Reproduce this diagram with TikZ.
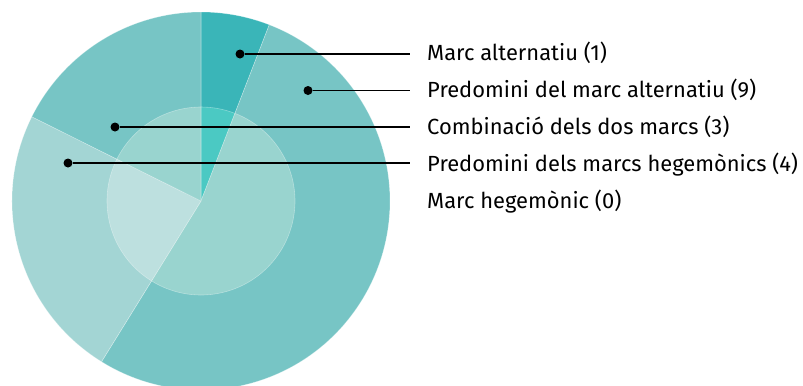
\documentclass[tikz,border=0pt]{standalone}
\usepackage{fontspec}
\setmainfont{Fira Sans}
\usetikzlibrary{positioning}
\definecolor{altout}{HTML}{3AB5B8}
\definecolor{midout}{HTML}{77C5C5}
\definecolor{hegout}{HTML}{A3D5D4}
\definecolor{altin}{HTML}{4BC9C3}
\definecolor{midin}{HTML}{99D4CF}
\definecolor{hegin}{HTML}{BDE0DF}

\begin{document}
\begin{tikzpicture}[x=1bp,y=1bp,
slice/.style={draw=white,draw opacity=.35,line width=.6bp},
lbl/.style={anchor=west,inner xsep=17bp,inner ysep=0pt,text height=15bp,text depth=5bp,
    font=\fontsize{22}{26}\selectfont},
pt/.style={circle,fill=black,inner sep=0pt,minimum size=9bp},
lead/.style={draw=black,line width=1.3bp}]
\useasboundingbox (0,-385) rectangle (803,0);
\coordinate (ctr) at (201,-201);
% outer ring
\foreach \s/\e/\c in {68.82/90/altout,-121.76/68.82/midout,-206.47/-121.76/hegout,-270/-206.47/midout}
  \filldraw[slice,fill=\c] (ctr) -- ++(\s:189bp) arc[start angle=\s,end angle=\e,radius=189bp] -- cycle;
% inner disc
\foreach \s/\e/\c in {68.82/90/altin,-121.76/68.82/midin,-206.47/-121.76/hegin,-270/-206.47/midin}
  \filldraw[slice,fill=\c] (ctr) -- ++(\s:94bp) arc[start angle=\s,end angle=\e,radius=94bp] -- cycle;

% legend
\node (lalt) [lbl] at (410,-55.5) {Marc alternatiu (1)};
\node (lpalt) [lbl,below=16.6bp of lalt.south west,anchor=north west] {Predomini del marc alternatiu (9)};
\node (lcomb) [lbl,below=16.6bp of lpalt.south west,anchor=north west] {Combinació dels dos marcs (3)};
\node (lpheg) [lbl,below=16.6bp of lcomb.south west,anchor=north west] {Predomini dels marcs hegemònics (4)};
\node (lheg) [lbl,below=16.6bp of lpheg.south west,anchor=north west] {Marc hegemònic (0)};

% dots and leaders
\node (dalt) [pt] at (240,-54) {};
\node (dpalt) [pt] at (308,-90.5) {};
\node (dcomb) [pt] at (115,-127) {};
\node (dpheg) [pt] at (68,-163) {};
\draw[lead] (dalt) -- (dalt -| lalt.west);
\draw[lead] (dpalt) -- (dpalt -| lpalt.west);
\draw[lead] (dcomb) -- (dcomb -| lcomb.west);
\draw[lead] (dpheg) -- (dpheg -| lpheg.west);
\end{tikzpicture}
\end{document}
